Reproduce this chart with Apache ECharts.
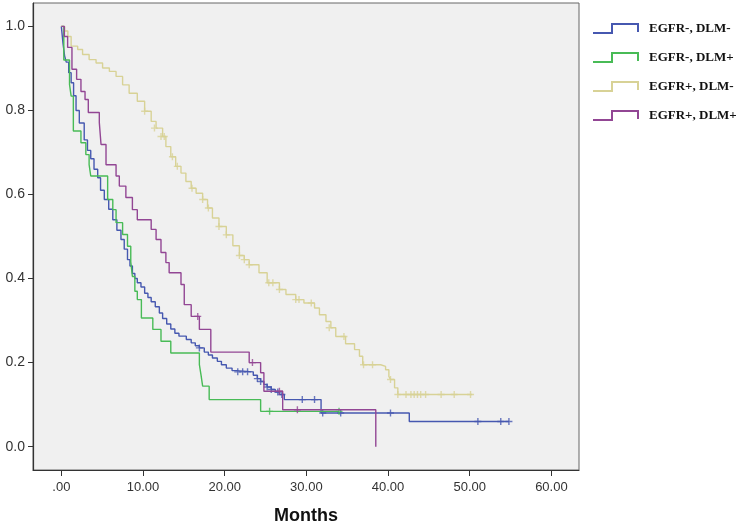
<!DOCTYPE html>
<html>
<head>
<meta charset="utf-8">
<script src="https://cdn.jsdelivr.net/npm/echarts@6/dist/echarts.min.js"></script>
<style>
  html, body { margin: 0; padding: 0; background: #ffffff; }
  #chart { width: 740px; height: 526px; }
</style>
</head>
<body>
<div id="chart"></div>
<script>
// ---------- data (months, cumulative survival) ----------
const seriesNames = ['EGFR-, DLM-', 'EGFR-, DLM+', 'EGFR+, DLM-', 'EGFR+, DLM+'];
const seriesColors = ['#4658b0', '#48bb56', '#d8d296', '#924694'];

const egfrNegDlmNeg = [
  [0,1.0],[0.2,0.96],[0.4,0.93],[0.6,0.915],[0.9,0.89],[1.2,0.866],[1.5,0.835],[1.8,0.80],
  [2.2,0.77],[2.8,0.73],[3.2,0.705],[3.6,0.685],[4.0,0.66],[4.45,0.64],[4.8,0.61],[5.26,0.588],
  [5.8,0.565],[6.3,0.54],[6.8,0.515],[7.3,0.493],[7.7,0.47],[8.1,0.445],[8.4,0.43],[8.7,0.412],
  [9.0,0.40],[9.3,0.39],[9.75,0.38],[10.2,0.365],[10.6,0.355],[11.0,0.345],[11.5,0.333],[12.0,0.318],
  [12.4,0.305],[12.9,0.292],[13.4,0.28],[13.9,0.27],[14.4,0.263],[15.3,0.255],[15.9,0.247],[16.4,0.24],
  [16.9,0.235],[17.5,0.225],[18.0,0.218],[18.5,0.211],[19.1,0.203],[19.6,0.195],[20.2,0.187],[20.9,0.181],
  [21.4,0.178],[23.5,0.17],[24.0,0.162],[24.4,0.155],[24.8,0.148],[25.2,0.142],[25.7,0.136],[26.2,0.13],
  [26.7,0.124],[27.3,0.112],[31.8,0.08],[42.6,0.06],[54.8,0.06]
];
const egfrNegDlmPos = [
  [0,1.0],[0.3,0.92],[1.0,0.862],[1.2,0.834],[1.47,0.751],[2.4,0.723],[3.0,0.695],[3.4,0.671],
  [3.6,0.644],[5.67,0.588],[6.3,0.564],[6.7,0.533],[7.5,0.505],[8.1,0.477],[8.5,0.44],[8.7,0.405],
  [9.0,0.37],[9.3,0.35],[9.8,0.306],[11.2,0.279],[12.2,0.251],[13.4,0.223],[16.9,0.195],[17.1,0.171],
  [17.3,0.144],[18.1,0.112],[24.4,0.084],[34.0,0.084]
];
const egfrPosDlmNeg = [
  [0,1.0],[0.4,0.989],[0.8,0.976],[1.2,0.953],[2.0,0.945],[2.6,0.933],[3.4,0.921],[4.25,0.913],
  [5.05,0.901],[5.88,0.893],[6.7,0.881],[7.5,0.861],[8.3,0.841],[9.3,0.822],[10.2,0.798],[11.0,0.774],
  [11.6,0.758],[12.4,0.738],[12.8,0.714],[13.4,0.69],[14.0,0.667],[14.65,0.651],[15.25,0.631],[15.9,0.615],
  [16.5,0.603],[17.3,0.588],[17.9,0.568],[18.5,0.544],[19.3,0.524],[20.2,0.504],[21.0,0.478],[21.8,0.455],
  [22.4,0.445],[23.0,0.433],[24.2,0.414],[25.2,0.39],[26.7,0.374],[27.5,0.362],[28.7,0.35],[29.7,0.342],
  [31.0,0.33],[31.6,0.314],[32.4,0.298],[33.0,0.283],[33.6,0.262],[34.8,0.245],[35.9,0.231],[36.5,0.215],
  [36.9,0.195],[39.1,0.191],[39.7,0.183],[40.1,0.167],[40.3,0.16],[40.8,0.14],[41.2,0.124],[50.3,0.124]
];
const egfrPosDlmPos = [
  [0,1.0],[0.37,0.976],[0.77,0.95],[1.3,0.898],[1.87,0.874],[2.4,0.845],[2.9,0.826],[3.3,0.795],
  [4.65,0.771],[4.86,0.719],[5.47,0.671],[6.7,0.644],[7.1,0.62],[7.9,0.593],[8.7,0.564],[9.3,0.54],
  [11.0,0.517],[11.6,0.493],[12.2,0.462],[12.8,0.438],[13.2,0.414],[14.65,0.386],[15.05,0.338],[15.9,0.31],
  [16.9,0.279],[18.3,0.225],[23.0,0.2],[24.4,0.176],[24.8,0.132],[27.1,0.088],[38.5,0.0]
];

// censored observations (month, survival)
const censNegNeg = [
  [16.9,0.235],[21.6,0.178],[22.2,0.178],[22.8,0.178],[24.0,0.162],[24.4,0.155],[25.2,0.142],[25.7,0.136],
  [26.5,0.13],[27.0,0.124],[29.5,0.112],[31.0,0.112],[32.0,0.08],[34.2,0.08],[40.3,0.08],
  [51.0,0.06],[53.8,0.06],[54.8,0.06]
];
const censNegPos = [[25.5,0.084],[34.0,0.084]];
const censPosNeg = [
  [10.2,0.798],[11.4,0.758],[12.2,0.738],[12.6,0.738],[13.6,0.69],[14.2,0.667],[16.0,0.615],[17.3,0.588],
  [18.0,0.568],[19.3,0.524],[20.2,0.504],[21.8,0.455],[22.4,0.445],[23.0,0.433],[25.4,0.39],[25.9,0.39],
  [26.7,0.374],[28.7,0.35],[29.1,0.35],[30.6,0.342],[32.8,0.283],[34.6,0.262],[37.0,0.195],[38.1,0.195],
  [40.3,0.16],[41.2,0.124],[42.2,0.124],[42.8,0.124],[43.2,0.124],[43.6,0.124],[44.0,0.124],[44.6,0.124],
  [46.5,0.124],[48.1,0.124],[50.1,0.124]
];
const censPosPos = [[16.7,0.31],[23.4,0.2],[26.7,0.132],[28.9,0.088]];

const xTicks = [0, 10, 20, 30, 40, 50, 60];
const xTickLabels = ['.00', '10.00', '20.00', '30.00', '40.00', '50.00', '60.00'];
const yTicks = [0, 0.2, 0.4, 0.6, 0.8, 1.0];
const yTickLabels = ['0.0', '0.2', '0.4', '0.6', '0.8', '1.0'];

// ---------- chart ----------
const curves = [egfrNegDlmNeg, egfrNegDlmPos, egfrPosDlmNeg, egfrPosDlmPos];
const censored = [censNegNeg, censNegPos, censPosNeg, censPosPos];

function labelFor(ticks, labels) {
  return function (v) {
    for (let i = 0; i < ticks.length; i++) {
      if (Math.abs(ticks[i] - v) < 1e-6) return labels[i];
    }
    return '';
  };
}

const plusPath = 'path://M4,0 L6,0 L6,4 L10,4 L10,6 L6,6 L6,10 L4,10 L4,6 L0,6 L0,4 L4,4 Z';
const legendIcon = 'path://M0,10 L19,10 L19,1 L45,1 L45,9';

const series = [];
curves.forEach(function (c, i) {
  series.push({
    name: seriesNames[i],
    type: 'line',
    step: 'end',
    data: c,
    symbol: 'none',
    lineStyle: { color: seriesColors[i], width: 1.4 },
    itemStyle: { color: seriesColors[i] },
    silent: true,
    z: 2 + i
  });
});
censored.forEach(function (c, i) {
  series.push({
    name: seriesNames[i] + ' censored',
    type: 'scatter',
    data: c,
    symbol: plusPath,
    symbolSize: 7,
    itemStyle: { color: seriesColors[i] },
    silent: true,
    z: 2 + i
  });
});

const chart = echarts.init(document.getElementById('chart'), null, { renderer: 'canvas' });
chart.setOption({
  animation: false,
  backgroundColor: '#ffffff',
  grid: {
    left: 33, right: 161, top: 3, bottom: 56,
    outerBoundsMode: 'none',
    containLabel: false,
    show: true, backgroundColor: '#f0f0f0', borderColor: '#666666', borderWidth: 1
  },
  xAxis: {
    type: 'value',
    min: -3.47, max: 63.38,
    name: 'Months',
    nameLocation: 'middle',
    nameGap: 37,
    nameTextStyle: { fontFamily: 'Liberation Sans, Arial', fontWeight: 'bold', fontSize: 18, color: '#111111' },
    axisLine: { show: true, onZero: false, lineStyle: { color: '#333333', width: 1.2 } },
    axisTick: { show: true, length: 6, customValues: xTicks, lineStyle: { color: '#333333', width: 1 } },
    axisLabel: {
      customValues: xTicks, margin: 11,
      formatter: labelFor(xTicks, xTickLabels),
      fontFamily: 'Liberation Sans, Arial', fontSize: 13, color: '#333333'
    },
    splitLine: { show: false }
  },
  yAxis: {
    type: 'value',
    min: -0.0555, max: 1.0557,
    axisLine: { show: true, onZero: false, lineStyle: { color: '#333333', width: 1.2 } },
    axisTick: { show: true, length: 5, customValues: yTicks, lineStyle: { color: '#333333', width: 1 } },
    axisLabel: {
      customValues: yTicks, margin: 8,
      formatter: labelFor(yTicks, yTickLabels),
      fontFamily: 'Liberation Sans, Arial', fontSize: 14, color: '#333333'
    },
    splitLine: { show: false }
  },
  legend: {
    orient: 'vertical',
    left: 592, top: 22,
    padding: 0,
    itemWidth: 45, itemHeight: 10, itemGap: 16,
    selectedMode: false,
    textStyle: {
      fontFamily: 'Liberation Serif, Times New Roman', fontWeight: 'bold', fontSize: 13,
      color: '#111111', padding: [0, 0, 0, 6]
    },
    data: seriesNames.map(function (n, i) {
      return {
        name: n,
        icon: legendIcon,
        itemStyle: { color: 'transparent', borderColor: seriesColors[i], borderWidth: 2 }
      };
    })
  },
  series: series
});
</script>
</body>
</html>
